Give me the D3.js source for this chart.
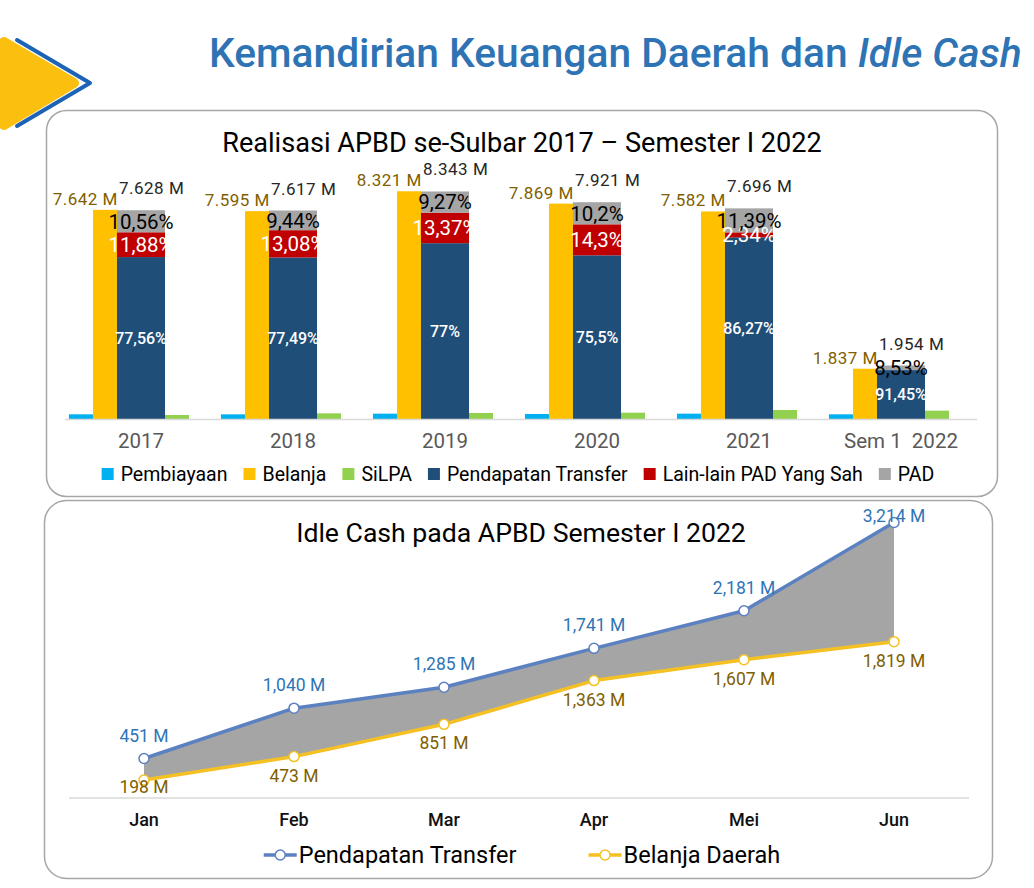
<!DOCTYPE html>
<html>
<head>
<meta charset="utf-8">
<script src="https://cdn.jsdelivr.net/npm/d3@7"></script>
<style>
  body { margin: 0; background: #fff; font-family: Roboto, "Noto Sans", sans-serif; }
</style>
</head>
<body>
<svg id="page" width="1034" height="888"></svg>
<script>
// ---- data: Realisasi APBD (miliar rupiah) ----
const years = ['2017', '2018', '2019', '2020', '2021', 'Sem 1  2022'];
const pembiayaan = [171, 170, 195, 183, 195, 171];
const belanja = [7642, 7595, 8321, 7869, 7582, 1837];
const silpa = [146, 207, 219, 231, 329, 304];
const pendapatan = [7628, 7617, 8343, 7921, 7696, 1954];
// share of pendapatan (%)
const pctTransfer = [77.56, 77.49, 77, 75.5, 86.27, 91.45];
const pctLain = [11.88, 13.08, 13.37, 14.3, 2.34, 0.02];
const pctPad = [10.56, 9.44, 9.27, 10.2, 11.39, 8.53];

// ---- data: Idle cash semester I 2022 (miliar) ----
const months = ['Jan', 'Feb', 'Mar', 'Apr', 'Mei', 'Jun'];
const transfer = [451, 1040, 1285, 1741, 2181, 3214];
const belanjaDaerah = [198, 473, 851, 1363, 1607, 1819];

const col = {
  pemb: '#00b0f0', bel: '#ffc000', silpa: '#92d050',
  transfer: '#1f4e79', lain: '#c00000', pad: '#a5a5a5',
  brown: '#7f6000', blue: '#2e75b6'
};

const idLocale = d3.formatLocale({ decimal: ',', thousands: '.', grouping: [3], currency: ['', ''] });
const fmtM = d => idLocale.format(',')(d) + ' M';
const fmtPct = d => idLocale.format('.2~f')(d) + '%';
const fmtEn = d => d3.format(',')(d) + ' M';

const svg = d3.select('#page');

// shrink/grow a text's font so it spans the wanted width
const fitWidth = (sel, base, width) => {
  const len = sel.node().getComputedTextLength();
  sel.attr('font-size', base * width / len);
};

// ---- panels ----
svg.append('rect').attr('x', 46.5).attr('y', 110.5).attr('width', 951).attr('height', 386)
  .attr('rx', 20).attr('fill', '#fff').attr('stroke', '#a6a6a6').attr('stroke-width', 1.5);
svg.append('rect').attr('x', 44.5).attr('y', 500.5).attr('width', 948).attr('height', 378)
  .attr('rx', 22).attr('fill', '#fff').attr('stroke', '#a6a6a6').attr('stroke-width', 1.5);

// ---- header + logo ----
const logo = svg.append('g');
logo.append('path')
  .attr('d', 'M17,40 L90,83 L17,126')
  .attr('fill', 'none').attr('stroke', '#1d63b5').attr('stroke-width', 4)
  .attr('stroke-linejoin', 'round').attr('stroke-linecap', 'round');
logo.append('path')
  .attr('d', 'M4,42 L74,83 L4,125 Z')
  .attr('fill', '#fbbf0f').attr('stroke', '#fbbf0f').attr('stroke-width', 10)
  .attr('stroke-linejoin', 'round');

const header = svg.append('text')
  .attr('x', 209).attr('y', 67)
  .attr('font-size', 42).attr('font-weight', 500).attr('fill', '#2e74b5');
header.append('tspan').text('Kemandirian Keuangan Daerah dan ');
header.append('tspan').attr('font-style', 'italic').text('Idle Cash');
fitWidth(header, 42, 813);

// =================== BAR CHART ===================
const barG = svg.append('g');
const title1 = barG.append('text').attr('x', 522).attr('y', 152).attr('text-anchor', 'middle')
  .attr('font-size', 26).attr('fill', '#000')
  .text('Realisasi APBD se-Sulbar 2017 \u2013 Semester I 2022');
fitWidth(title1, 26, 600);

const x = d3.scaleBand().domain(years).range([65, 977]);
const y = d3.scaleLinear().domain([0, 9000]).range([419, 419 - 9000 * 0.02737]);
const u = x.bandwidth() * 0.158;
const cx = d => x(d) + x.bandwidth() / 2;

const rows = years.map((yr, i) => ({
  year: yr,
  transfer: pendapatan[i] * pctTransfer[i] / 100,
  lain: pendapatan[i] * pctLain[i] / 100,
  pad: pendapatan[i] * pctPad[i] / 100,
  pct: { transfer: pctTransfer[i], lain: pctLain[i], pad: pctPad[i] }
}));
const stack = d3.stack().keys(['transfer', 'lain', 'pad'])(rows);

// simple bars: pembiayaan, belanja, silpa
const simple = [
  { vals: pembiayaan, off: -3, fill: col.pemb },
  { vals: belanja, off: -2, fill: col.bel },
  { vals: silpa, off: 1, fill: col.silpa }
];
simple.forEach(s => {
  barG.selectAll(null).data(years).enter().append('rect')
    .attr('x', d => cx(d) + s.off * u)
    .attr('width', u)
    .attr('y', (d, i) => y(s.vals[i]))
    .attr('height', (d, i) => y(0) - y(s.vals[i]))
    .attr('fill', s.fill);
});

// stacked pendapatan
stack.forEach(layer => {
  barG.selectAll(null).data(layer).enter().append('rect')
    .attr('x', d => cx(d.data.year) - u)
    .attr('width', 2 * u)
    .attr('y', d => y(d[1]))
    .attr('height', d => y(d[0]) - y(d[1]))
    .attr('fill', col[layer.key]);
});

// axis baseline
barG.append('line').attr('x1', 65).attr('x2', 977).attr('y1', 419.5).attr('y2', 419.5)
  .attr('stroke', '#d9d9d9').attr('stroke-width', 1.5);

// segment labels
const segStyle = {
  transfer: { size: 16, fill: '#fff', weight: 500 },
  lain: { size: 20.5, fill: '#fff', weight: 400 },
  pad: { size: 20.5, fill: '#000', weight: 400 }
};
stack.forEach(layer => {
  const st = segStyle[layer.key];
  barG.selectAll(null).data(layer.filter(d => d.data.pct[layer.key] >= 1)).enter().append('text')
    .attr('x', d => cx(d.data.year))
    .attr('y', d => (y(d[0]) + y(d[1])) / 2)
    .attr('dy', '0.36em')
    .attr('text-anchor', 'middle')
    .attr('font-size', st.size).attr('font-weight', st.weight).attr('fill', st.fill)
    .text(d => fmtPct(d.data.pct[layer.key]));
});

// belanja value labels
barG.selectAll(null).data(years).enter().append('text')
  .attr('x', d => cx(d) - u + 1)
  .attr('y', (d, i) => y(belanja[i]) - 5)
  .attr('text-anchor', 'end')
  .attr('font-size', 17).attr('letter-spacing', 0.5).attr('fill', col.brown)
  .text((d, i) => fmtM(belanja[i]));

// pendapatan totals
barG.selectAll(null).data(years).enter().append('text')
  .attr('x', d => cx(d) - u + 2)
  .attr('y', (d, i) => y(pendapatan[i]) - 16)
  .attr('font-size', 17).attr('letter-spacing', 0.5).attr('fill', '#262626')
  .text((d, i) => fmtM(pendapatan[i]));

// category labels
barG.selectAll(null).data(years).enter().append('text')
  .attr('x', d => cx(d)).attr('y', 448)
  .attr('text-anchor', 'middle').attr('font-size', 20.5).attr('fill', '#595959')
  .style('white-space', 'pre')
  .text(d => d);

// legend
const legendItems = [
  { name: 'Pembiayaan', fill: col.pemb },
  { name: 'Belanja', fill: col.bel },
  { name: 'SiLPA', fill: col.silpa },
  { name: 'Pendapatan Transfer', fill: col.transfer },
  { name: 'Lain-lain PAD Yang Sah', fill: col.lain },
  { name: 'PAD', fill: col.pad }
];
const legendG = barG.append('g');
let lx = 0;
legendItems.forEach(it => {
  const g = legendG.append('g').attr('transform', `translate(${lx},0)`);
  g.append('rect').attr('x', 0).attr('y', -6).attr('width', 12).attr('height', 12).attr('fill', it.fill);
  const t = g.append('text').attr('x', 19).attr('y', 0).attr('dy', '0.35em')
    .attr('font-size', 19.5).attr('fill', '#000').text(it.name);
  lx += 19 + t.node().getComputedTextLength() + 16;
});
legendG.attr('transform', `translate(${518 - (lx - 16) / 2},474)`);

// =================== IDLE CASH CHART ===================
const lineG = svg.append('g');
const title2 = lineG.append('text').attr('x', 521).attr('y', 542).attr('text-anchor', 'middle')
  .attr('font-size', 28).attr('fill', '#000')
  .text('Idle Cash pada APBD Semester I 2022');
fitWidth(title2, 28, 450);

const xb = d3.scaleBand().domain(months).range([69, 969]);
const yb = d3.scaleLinear().domain([0, 3500]).range([797, 797 - 3500 * 0.0854]);
const mx = m => xb(m) + xb.bandwidth() / 2;

const series = months.map((m, i) => ({ m, t: transfer[i], b: belanjaDaerah[i] }));

lineG.append('line').attr('x1', 69).attr('x2', 969).attr('y1', 798).attr('y2', 798)
  .attr('stroke', '#d9d9d9').attr('stroke-width', 1.5);

lineG.append('path').datum(series)
  .attr('d', d3.area().x(d => mx(d.m)).y0(d => yb(d.b)).y1(d => yb(d.t)))
  .attr('fill', '#a5a5a5');

const lines = [
  { key: 't', color: '#5b81c0', name: 'Pendapatan Transfer' },
  { key: 'b', color: '#f4c024', name: 'Belanja Daerah' }
];
lines.forEach(l => {
  lineG.append('path').datum(series)
    .attr('d', d3.line().x(d => mx(d.m)).y(d => yb(d[l.key])))
    .attr('fill', 'none').attr('stroke', l.color).attr('stroke-width', 3.5)
    .attr('stroke-linejoin', 'round');
});
lines.forEach(l => {
  lineG.selectAll(null).data(series).enter().append('circle')
    .attr('cx', d => mx(d.m)).attr('cy', d => yb(d[l.key])).attr('r', 5)
    .attr('fill', '#fff').attr('stroke', l.color).attr('stroke-width', 1.5);
});

// value labels
lineG.selectAll(null).data(series).enter().append('text')
  .attr('x', d => mx(d.m))
  .attr('y', d => Math.max(yb(d.t) - 23, 516))
  .attr('dy', '0.35em').attr('text-anchor', 'middle')
  .attr('font-size', 17.5).attr('fill', col.blue)
  .text(d => fmtEn(d.t));
lineG.selectAll(null).data(series).enter().append('text')
  .attr('x', d => mx(d.m))
  .attr('y', d => Math.min(yb(d.b) + 19, 787))
  .attr('dy', '0.35em').attr('text-anchor', 'middle')
  .attr('font-size', 17.5).attr('fill', col.brown)
  .text(d => fmtEn(d.b));

// month labels
lineG.selectAll(null).data(months).enter().append('text')
  .attr('x', d => mx(d)).attr('y', 820).attr('dy', '0.35em')
  .attr('text-anchor', 'middle').attr('font-size', 18).attr('font-weight', 500)
  .attr('fill', '#111').text(d => d);

// legend
const lg = lineG.append('g');
let bx = 0;
lines.forEach(l => {
  const g = lg.append('g').attr('transform', `translate(${bx},0)`);
  g.append('line').attr('x1', 0).attr('x2', 33).attr('y1', 0).attr('y2', 0)
    .attr('stroke', l.color).attr('stroke-width', 3.5);
  g.append('circle').attr('cx', 16.5).attr('cy', 0).attr('r', 5)
    .attr('fill', '#fff').attr('stroke', l.color).attr('stroke-width', 1.5);
  const t = g.append('text').attr('x', 35).attr('y', 0).attr('dy', '0.35em')
    .attr('font-size', 23.5).attr('fill', '#000').text(l.name);
  bx += 35 + t.node().getComputedTextLength() + 72;
});
lg.attr('transform', `translate(${522 - (bx - 72) / 2},855)`);
</script>
</body>
</html>
